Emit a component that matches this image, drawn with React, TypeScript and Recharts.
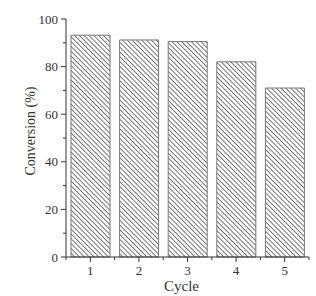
import { BarChart, Bar, XAxis, YAxis } from "recharts";

const cycles = [1, 2, 3, 4, 5];
const conversion = [93.2, 91.2, 90.5, 82, 71];
const yTicks = [0, 10, 20, 30, 40, 50, 60, 70, 80, 90, 100];
const xTicks = [0.5, 1, 1.5, 2, 2.5, 3, 3.5, 4, 4.5, 5, 5.5];

const data = cycles.map((c, i) => ({ cycle: c, value: conversion[i] }));

const FONT = "'Liberation Serif', 'DejaVu Serif', serif";
const INK = "#333";

// tick coords arrive offset by tickSize (5) + tickMargin (2) from the axis line
const YTick = (props: any) => {
  const { x, y, payload } = props;
  const axisX = x + 7;
  const major = payload.value % 20 === 0;
  const len = major ? 5 : 3;
  return (
    <g>
      <line x1={axisX - len} y1={y} x2={axisX} y2={y} stroke={INK} strokeWidth={1} />
      {major && (
        <text
          x={x - 1}
          y={y}
          dy={4.5}
          textAnchor="end"
          fontSize={13}
          fontFamily={FONT}
          fill={INK}
        >
          {payload.value}
        </text>
      )}
    </g>
  );
};

const XTick = (props: any) => {
  const { x, y, payload } = props;
  const axisY = y - 7;
  const major = Number.isInteger(payload.value);
  const len = major ? 5 : 3;
  return (
    <g>
      <line x1={x} y1={axisY} x2={x} y2={axisY + len} stroke={INK} strokeWidth={1} />
      {major && (
        <text
          x={x}
          y={axisY + 18}
          textAnchor="middle"
          fontSize={13}
          fontFamily={FONT}
          fill={INK}
        >
          {payload.value}
        </text>
      )}
    </g>
  );
};

const App = () => {
  return (
    <div style={{ position: "absolute", left: 0, top: 0, background: "#fff" }}>
      <BarChart
        width={316}
        height={296}
        data={data}
        margin={{ top: 19, right: 7, bottom: 0, left: 0 }}
      >
        <defs>
          <pattern
            id="hatch"
            width={3.4}
            height={3.4}
            patternUnits="userSpaceOnUse"
            patternTransform="rotate(-45)"
          >
            <rect width={3.4} height={3.4} fill="#fff" />
            <line x1={0} y1={0} x2={0} y2={3.4} stroke="#333" strokeWidth={1.3} />
          </pattern>
        </defs>
        <XAxis
          dataKey="cycle"
          type="number"
          domain={[0.5, 5.5]}
          ticks={xTicks}
          interval={0}
          height={39}
          stroke={INK}
          tickLine={false}
          tickSize={5}
          tick={<XTick />}
          label={{
            content: (p: any) => {
              const vb = p.viewBox;
              return (
                <text
                  x={vb.x + vb.width / 2 - 6}
                  y={vb.y + 34}
                  textAnchor="middle"
                  fontSize={15}
                  fontFamily={FONT}
                  fill={INK}
                >
                  Cycle
                </text>
              );
            },
          }}
        />
        <YAxis
          domain={[0, 100]}
          ticks={yTicks}
          interval={0}
          width={66}
          stroke={INK}
          tickLine={false}
          tickSize={5}
          tick={<YTick />}
          label={{
            content: () => (
              <text
                x={35}
                y={131}
                transform="rotate(-90, 35, 131)"
                textAnchor="middle"
                fontSize={14}
                fontFamily={FONT}
                fill={INK}
              >
                Conversion (%)
              </text>
            ),
          }}
        />
        <Bar
          dataKey="value"
          barSize={39}
          fill="url(#hatch)"
          stroke="#777"
          strokeWidth={1}
          isAnimationActive={false}
        />
      </BarChart>
    </div>
  );
};

export default App;
